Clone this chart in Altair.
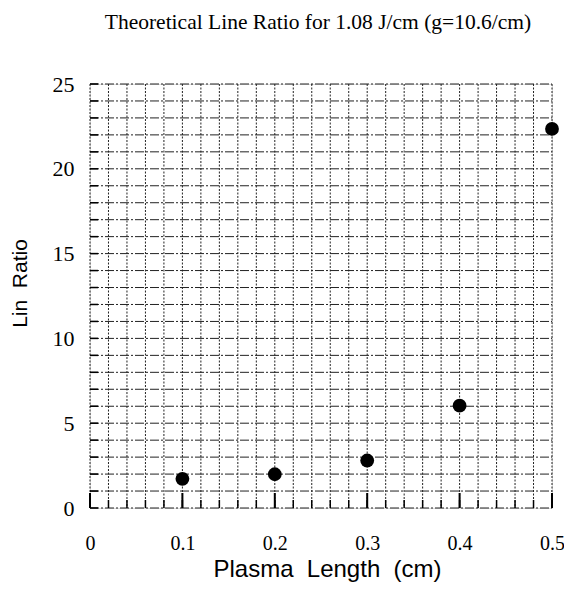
import altair as alt
import pandas as pd

# Data
plasma_length = [0.1, 0.2, 0.3, 0.4, 0.5]
line_ratio = [1.72, 1.99, 2.8, 6.03, 22.35]

x_label_values = [0.0, 0.1, 0.2, 0.3, 0.4, 0.5]
y_label_values = [0, 5, 10, 15, 20, 25]
x_grid_values = [round(i * 0.02, 2) for i in range(26)]
y_grid_values = list(range(26))

W, H = 462, 424

df = pd.DataFrame({"x": plasma_length, "y": line_ratio})
xt = pd.DataFrame({"x": x_grid_values})
xmaj = pd.DataFrame({"x": x_label_values})
yt = pd.DataFrame({"y": y_grid_values})

xscale = alt.Scale(domain=[0, 0.5], nice=False, zero=False)
yscale = alt.Scale(domain=[0, 25], nice=False, zero=False)

NB = "\u00a0"

x_axis = alt.Axis(
    values=x_label_values,
    grid=False, ticks=False, domain=False, labelOverlap=False, labelFlush=False,
    labelExpr="'' + round(datum.value*10)/10",
    labelFont="Liberation Serif", labelFontSize=20, labelColor="black",
    labelPadding=25, labelAngle=0,
    title=f"Plasma{NB}{NB}Length{NB}{NB}(cm)", titleFont="Liberation Sans", titleFontSize=24,
    titleFontWeight="normal", titleColor="black", titlePadding=4, titleX=237,
)
y_axis = alt.Axis(
    values=y_label_values,
    grid=False, ticks=False, domain=False, labelOverlap=False, labelFlush=False,
    labelFont="Liberation Serif", labelFontSize=22, labelColor="black",
    labelPadding=16,
    title=f"Lin{NB}{NB}Ratio", titleFont="Liberation Sans", titleFontSize=21,
    titleFontWeight="normal", titleColor="black", titlePadding=22, titleY=199,
)

X = alt.X("x:Q", scale=xscale, axis=x_axis)
Y = alt.Y("y:Q", scale=yscale, axis=y_axis)

v_grid = alt.Chart(xt).mark_rule(color="#222", strokeWidth=1, strokeDash=[2, 1.5]).encode(
    x=X, y=alt.value(0), y2=alt.value(H),
)
h_grid = alt.Chart(yt).mark_rule(color="#222", strokeWidth=1, strokeDash=[9, 2, 2, 2]).encode(
    y=Y, x=alt.value(0), x2=alt.value(W),
)
x_minor = alt.Chart(xt).mark_rule(color="black", strokeWidth=1.5).encode(
    x=X, y=alt.value(H), y2=alt.value(H - 8),
)
x_major = alt.Chart(xmaj).mark_rule(color="black", strokeWidth=2).encode(
    x=X, y=alt.value(H), y2=alt.value(H - 15),
)
y_minor = alt.Chart(yt).mark_rule(color="black", strokeWidth=1.5).encode(
    y=Y, x=alt.value(0), x2=alt.value(8),
)
points = alt.Chart(df).mark_circle(size=190, color="black", opacity=1).encode(
    x=X, y=Y,
)

chart = alt.layer(v_grid, h_grid, x_minor, x_major, y_minor, points).properties(
    width=W, height=H,
    title=alt.TitleParams(
        "Theoretical Line Ratio for 1.08 J/cm (g=10.6/cm)",
        font="Liberation Serif", fontSize=21.5, fontWeight="normal",
        color="black", anchor="middle", offset=40, dx=-3,
    ),
    autosize=alt.AutoSizeParams(type="none"),
    padding={"left": 82, "top": 76, "right": 12, "bottom": 76},
).configure_view(stroke="black", strokeWidth=2).configure(background="white")

chart.save("out.html", embed_options={"renderer": "svg", "actions": False})
